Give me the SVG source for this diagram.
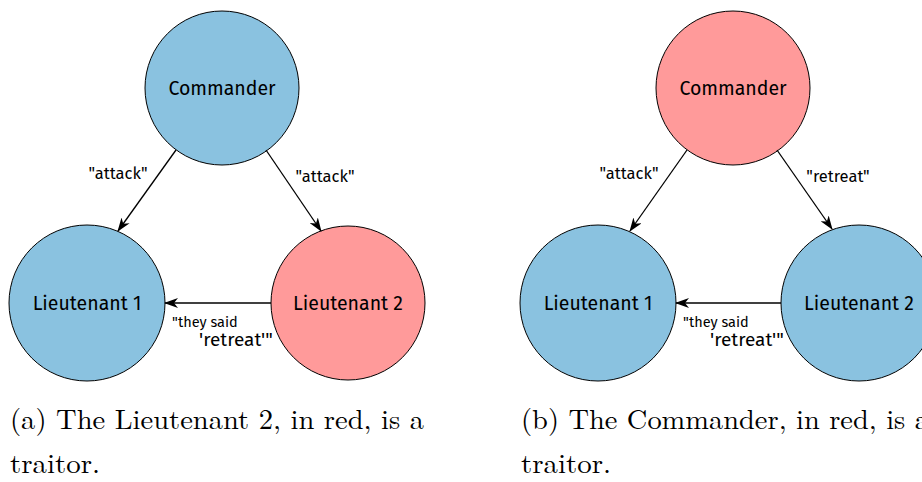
<svg xmlns="http://www.w3.org/2000/svg" width="922" height="482" viewBox="0 0 922 482">
  <style>
    .blue { fill: #8ac2e0; stroke: #000; stroke-width: 1; }
    .red { fill: #ff9a9a; stroke: #000; stroke-width: 1; }
    text { font-family: "Fira Sans", "Open Sans", "Noto Sans", sans-serif; fill: #000; }
    .node { font-size: 19.5px; font-weight: 400; text-anchor: middle; dominant-baseline: central; }
    .lbl { font-size: 16.5px; font-weight: 400; text-anchor: middle; }
    .said { font-size: 14.5px; font-weight: 400; }
    .lbl2 { font-size: 19px; font-weight: 400; }
    .edge { stroke: #000; stroke-width: 1.3; fill: none; marker-end: url(#stealth); }
    .cap { font-family: "Latin Modern Roman", "Liberation Serif", "DejaVu Serif", serif; font-size: 28px; font-weight: 400; }
  </style>
  <defs>
    <marker id="stealth" viewBox="0 0 14 10" refX="13" refY="5" markerWidth="14" markerHeight="10" markerUnits="userSpaceOnUse" orient="auto">
      <path d="M0,0 L14,5 L0,10 L4,5 Z" fill="#000"/>
    </marker>
  </defs>
  <rect width="922" height="482" fill="#fff"/>

  <!-- Panel (a): Lieutenant 2 is the traitor -->
  <g id="a-commander"><circle class="blue" cx="222" cy="88" r="77"/><text class="node" x="222" y="88">Commander</text></g>
  <g id="a-lieutenant1"><circle class="blue" cx="87" cy="303" r="78"/><text class="node" x="87" y="303">Lieutenant 1</text></g>
  <g id="a-lieutenant2"><circle class="red" cx="348" cy="303" r="77"/><text class="node" x="348" y="303">Lieutenant 2</text></g>
  <g id="a-edges">
    <line class="edge" x1="176" y1="150" x2="118" y2="231"/>
    <line class="edge" x1="266" y1="150" x2="321" y2="231"/>
    <line class="edge" x1="271" y1="303" x2="165" y2="303"/>
    <text class="lbl" x="118" y="179">"attack"</text>
    <text class="lbl" x="325" y="182">"attack"</text>
    <text class="said" x="172" y="327">"they said</text>
    <text class="lbl2" x="199" y="346">'retreat'"</text>
  </g>
  <text class="cap" x="10" y="429" textLength="414" lengthAdjust="spacingAndGlyphs">(a) The Lieutenant 2, in red, is a</text>
  <text class="cap" x="10" y="473" textLength="90" lengthAdjust="spacingAndGlyphs">traitor.</text>

  <!-- Panel (b): the Commander is the traitor -->
  <g id="b-commander"><circle class="red" cx="733" cy="88" r="77"/><text class="node" x="733" y="88">Commander</text></g>
  <g id="b-lieutenant1"><circle class="blue" cx="598" cy="303" r="78"/><text class="node" x="598" y="303">Lieutenant 1</text></g>
  <g id="b-lieutenant2"><circle class="blue" cx="859" cy="303" r="78"/><text class="node" x="859" y="303">Lieutenant 2</text></g>
  <g id="b-edges">
    <line class="edge" x1="687" y1="150" x2="630" y2="231"/>
    <line class="edge" x1="777" y1="150" x2="832" y2="229"/>
    <line class="edge" x1="781" y1="303" x2="676" y2="303"/>
    <text class="lbl" x="629" y="179">"attack"</text>
    <text class="lbl" x="838" y="182">"retreat"</text>
    <text class="said" x="683" y="327">"they said</text>
    <text class="lbl2" x="710" y="346">'retreat'"</text>
  </g>
  <text class="cap" x="521" y="429" textLength="408" lengthAdjust="spacingAndGlyphs">(b) The Commander, in red, is a</text>
  <text class="cap" x="521" y="473" textLength="90" lengthAdjust="spacingAndGlyphs">traitor.</text>
</svg>
